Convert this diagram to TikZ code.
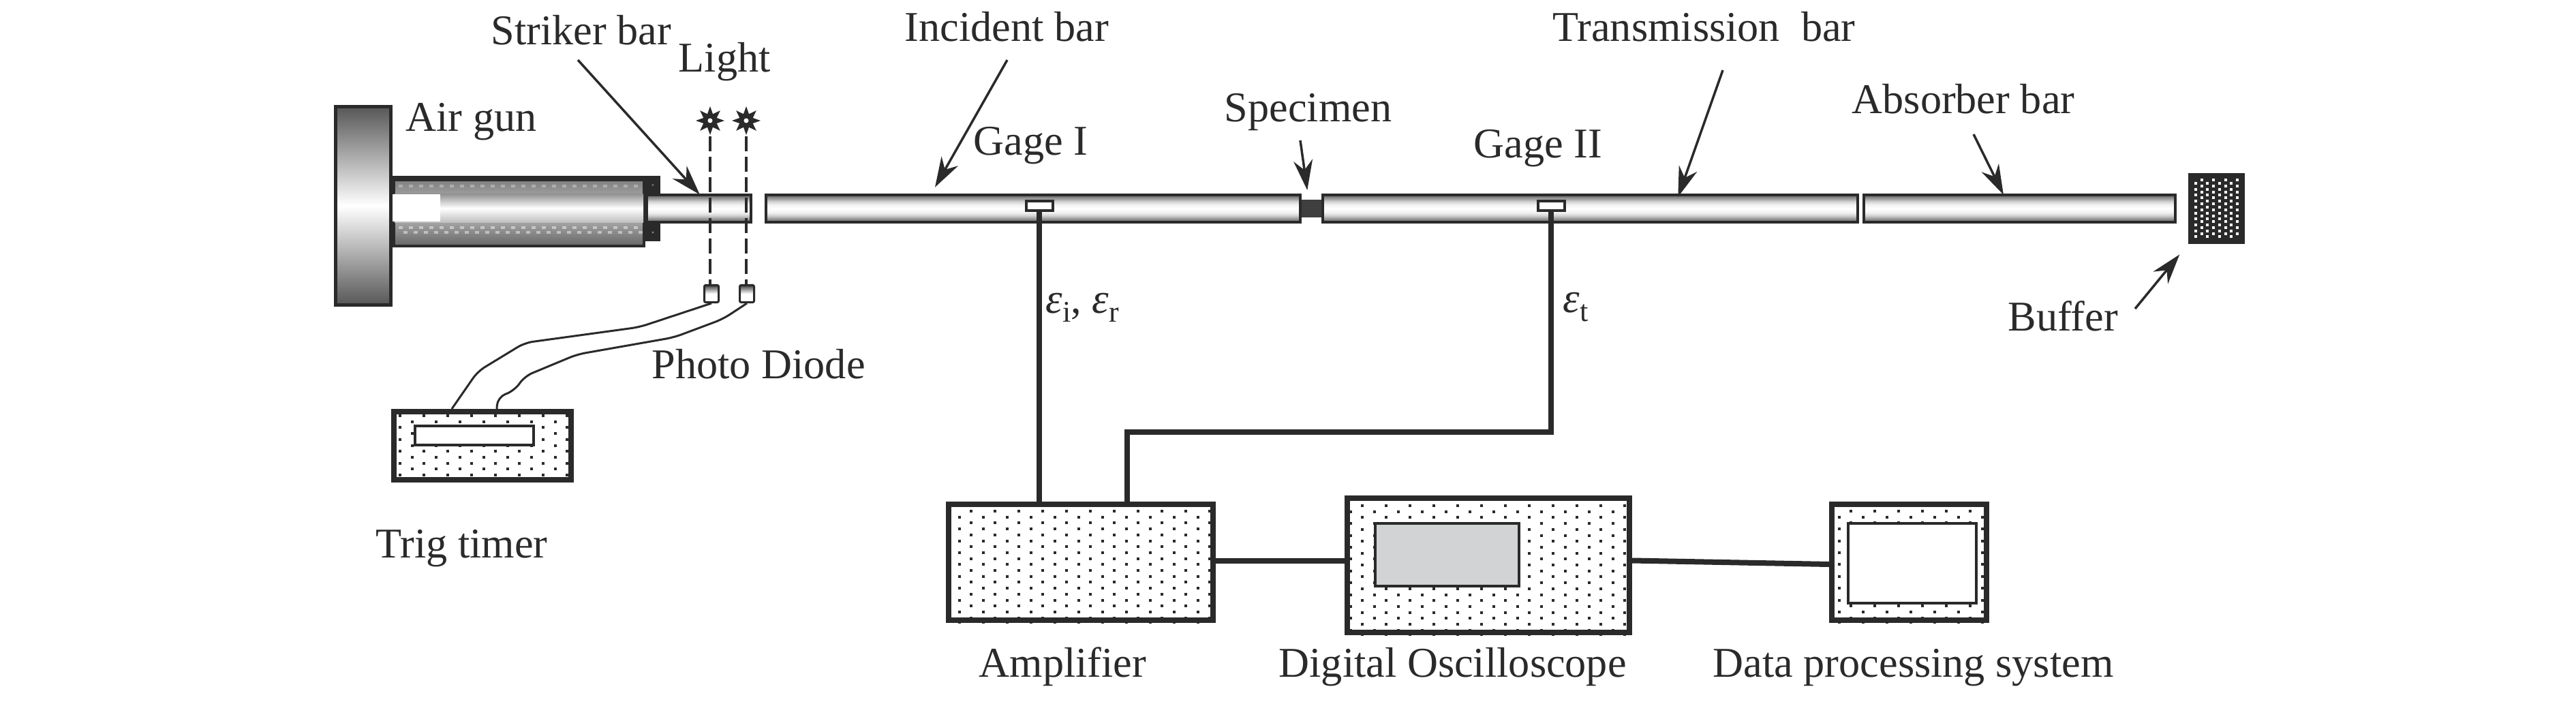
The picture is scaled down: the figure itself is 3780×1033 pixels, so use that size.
\documentclass[tikz,border=0pt]{standalone}
\usepackage{fontspec}
\setmainfont{Liberation Serif}
\usepackage{amsfonts,amsmath,amssymb}
\usetikzlibrary{arrows.meta,shapes.geometric}
\definecolor{ink}{HTML}{2A2A2A}
\definecolor{screengray}{HTML}{D2D3D5}
\pgfdeclareverticalshading{steelbar}{100bp}{color(0bp)=(black!62); color(25bp)=(black!62); color(31bp)=(black!42); color(37bp)=(black!18); color(43bp)=(black!5); color(50bp)=(white); color(57bp)=(black!5); color(63bp)=(black!18); color(69bp)=(black!42); color(75bp)=(black!62); color(100bp)=(black!62)}
\newcommand{\strain}[1]{\textit{ε}\raisebox{-.13cm}{\fontsize{12.5}{13}\selectfont #1}}
\tikzset{
  every picture/.style={line join=miter, >=Stealth},
  lbl/.style={font=\fontsize{17.7}{20}\selectfont, text=ink, inner sep=0pt, anchor=base west},
  bar/.style={draw=ink, line width=.04cm, shade, shading=steelbar, minimum height=.40cm, inner sep=0pt},
  dotbox/.style={draw=ink, line width=.08cm, inner sep=0pt},
  scrn/.style={draw=ink, line width=.04cm, inner sep=0pt},
  gage/.style={draw=ink, line width=.04cm, fill=white, minimum width=.39cm, minimum height=.14cm, inner sep=0pt},
  wire/.style={draw=ink, line width=.08cm},
  cable/.style={draw=ink, line width=.03cm, rounded corners=.12cm},
  leader/.style={draw=ink, line width=.035cm, -{Stealth[length=.44cm,width=.28cm]}, shorten >=-.02cm},
  beam/.style={draw=ink, line width=.045cm, dash pattern=on .22cm off .08cm},
  lamp/.style={star, star points=8, star point ratio=2, minimum size=.42cm, fill=ink, inner sep=0pt},
  diode/.style={draw=ink, line width=.03cm, top color=black!75, bottom color=white, middle color=white, minimum width=.21cm, minimum height=.25cm, inner sep=0pt, rounded corners=.02cm},
}
% dots of the four instrument boxes
\newcommand{\stipple}[3]{%
\begin{scope}
\clip (#1.south west) rectangle (#1.north east);
\foreach \i in {0,...,13}{\foreach \j in {0,...,12}{
\fill[ink] ({#2+35*\i-2},{#3+17.4*\j-2}) rectangle +(4,4);
\fill[ink] ({#2+35*\i-19.5},{#3+8.7+17.4*\j-2}) rectangle +(4,4);
}}
\end{scope}}
\begin{document}
\begin{tikzpicture}[x=.01cm,y=-.01cm]
\useasboundingbox (0,0) rectangle (3780,1033);
% air gun
\node[draw=ink, line width=.05cm, top color=black!66, bottom color=black!66, middle color=white, minimum width=.81cm, minimum height=2.91cm, inner sep=0pt] (flange) at (533,302) {};
\node[draw=ink, line width=.04cm, top color=black!52, bottom color=black!60, middle color=black!25, minimum width=3.67cm, minimum height=1.01cm, inner sep=0pt] (barrel) at (761.5,310.5) {};
\fill[ink] (barrel.north west) rectangle ([yshift=-.08cm]barrel.north east);
\node[top color=black!42, bottom color=black!25, middle color=white, minimum width=3.65cm, minimum height=.41cm, inner sep=0pt] (bore) at (761.5,305.5) {};
\node[fill=white, minimum width=.70cm, minimum height=.40cm, inner sep=0pt] (breech) at (611,305) {};
\foreach \k in {0,...,23}{
\fill[white,opacity=.3] ({585+15*\k},271) rectangle +(6,4);
\fill[white,opacity=.45] ({585+15*\k},332) rectangle +(6,4);
\fill[white,opacity=.45] ({592+15*\k},339) rectangle +(6,4);
}
\node[fill=ink, minimum width=.22cm, minimum height=.27cm, inner sep=0pt] (sealtop) at (958,271.5) {};
\node[fill=ink, minimum width=.22cm, minimum height=.26cm, inner sep=0pt] (sealbottom) at (958,341) {};
\foreach \s in {sealtop,sealbottom}{
\draw[white,line width=.035cm] ([shift={(-.07,-.07)}]\s.center)--([shift={(.07,.07)}]\s.center);
\draw[white,line width=.035cm] ([shift={(-.07,.07)}]\s.center)--([shift={(.07,-.07)}]\s.center);
}
% bars
\node[bar, minimum width=1.53cm] (striker) at (1025.5,306) {};
\node[bar, minimum width=7.84cm] (incident) at (1516,306) {};
\node[fill=ink!90, minimum width=.29cm, minimum height=.26cm, inner sep=0pt] (specimen) at (1924.5,306) {};
\node[bar, minimum width=7.85cm] (transmission) at (2333.5,306) {};
\node[bar, minimum width=4.57cm] (absorber) at (2963.5,306) {};
\node[fill=ink, minimum width=.83cm, minimum height=1.04cm, inner sep=0pt] (buffer) at (3252.5,306) {};
\foreach \i in {0,...,7}{\foreach \j in {0,...,9}{
\pgfmathsetmacro{\yy}{mod(\i,2)==0 ? 269 : 264.3}
\fill[white] ({3222+8.7*\i-2},{\yy+8.7*\j-2}) rectangle +(4,4);
}}
\node[gage] (gagea) at (1525,301.5) {};
\node[gage] (gageb) at (2276,302) {};
% light and photo diodes
\node[lamp] (lampa) at (1042,177) {};
\node[lamp] (lampb) at (1095,177) {};
\fill[white] (lampa) circle (3.5);
\fill[white] (lampb) circle (3.5);
\node[diode] (diodea) at (1044,431) {};
\node[diode] (diodeb) at (1096,431) {};
\draw[beam] (lampa.south)--(lampa.south |- diodea.north);
\draw[beam] (lampb.south)--(lampb.south |- diodeb.north);
% instrument boxes
\node[dotbox, minimum width=2.60cm, minimum height=1.00cm] (timer) at (708,654) {};
\node[dotbox, minimum width=3.88cm, minimum height=1.70cm] (amp) at (1586,825) {};
\node[dotbox, minimum width=4.14cm, minimum height=1.97cm] (scope) at (2184,829.5) {};
\node[dotbox, minimum width=2.27cm, minimum height=1.70cm] (data) at (2801.5,825) {};
\stipple{timer}{587}{610}
\stipple{amp}{1425}{750}
\stipple{scope}{1999}{742}
\stipple{data}{2716}{750}
\node[scrn, fill=white, minimum width=1.74cm, minimum height=.28cm] (timerscreen) at (696,639) {};
\node[scrn, fill=screengray, minimum width=2.11cm, minimum height=.92cm] (scopescreen) at (2123.5,814) {};
\node[scrn, fill=white, minimum width=1.88cm, minimum height=1.17cm] (datascreen) at (2806,826.5) {};
% connections
\draw[cable] (diodea.south)--(938,480)--(770,503)--(701,545)--([xshift=-.45cm]timer.north);
\draw[cable] (diodeb.south)--(1061,468)--(989,495)--(847,520)--(770,552)--(755,573)--(730,583)--([xshift=.21cm]timer.north);
\coordinate (amplink) at (1654,634);
\draw[wire] (gagea.south)--(gagea.south |- amp.north);
\draw[wire] (gageb.south)|-(amplink)--(amplink |- amp.north);
\draw[wire] ([yshift=.02cm]amp.east)--([yshift=.02cm]amp.east -| scope.west);
\draw[wire] ([yshift=.07cm]scope.east)--([yshift=-.03cm]data.west);
% labels with their arrows
\node[lbl] (strikerlbl) at (720,65) {Striker bar};
\node[lbl] (lightlbl) at (995,105) {Light};
\node[lbl] (gunlbl) at (595,192) {Air gun};
\node[lbl] (incidentlbl) at (1327,60) {Incident bar};
\node[lbl] (gagealbl) at (1428,227) {Gage I};
\node[lbl] (specimenlbl) at (1796,178) {Specimen};
\node[lbl] (gageblbl) at (2162,231) {Gage II};
\node[lbl] (transmissionlbl) at (2278,60) {Transmission\ \ bar};
\node[lbl] (absorberlbl) at (2717,166) {Absorber bar};
\node[lbl] (bufferlbl) at (2946,485) {Buffer};
\node[lbl] (strainalbl) at (1534,459) {\strain{i}, \strain{r}};
\node[lbl] (strainblbl) at (2293,458) {\strain{t}};
\node[lbl] (diodelbl) at (956,555) {Photo Diode};
\node[lbl] (timerlbl) at (551,818) {Trig timer};
\node[lbl] (amplbl) at (1436,993) {Amplifier};
\node[lbl] (scopelbl) at (1876,993) {Digital Oscilloscope};
\node[lbl] (datalbl) at (2513,993) {Data processing system};
\coordinate (strikertail) at (848,88);
\coordinate (incidenttail) at (1478,88);
\coordinate (incidenttip) at (1373,273);
\coordinate (specimentail) at (1908,206);
\coordinate (specimentip) at (1918,277);
\coordinate (transmissiontail) at (2528,103);
\coordinate (transmissiontip) at (2463,287);
\coordinate (absorbertail) at (2896,197);
\coordinate (absorbertip) at (2939,284);
\coordinate (buffertail) at (3133,453);
\coordinate (buffertip) at (3197,375);
\draw[leader] (strikertail)--(striker.north);
\draw[leader] (incidenttail)--(incidenttip);
\draw[leader] (specimentail)--(specimentip);
\draw[leader] (transmissiontail)--(transmissiontip);
\draw[leader] (absorbertail)--(absorbertip);
\draw[leader] (buffertail)--(buffertip);
\end{tikzpicture}
\end{document}
